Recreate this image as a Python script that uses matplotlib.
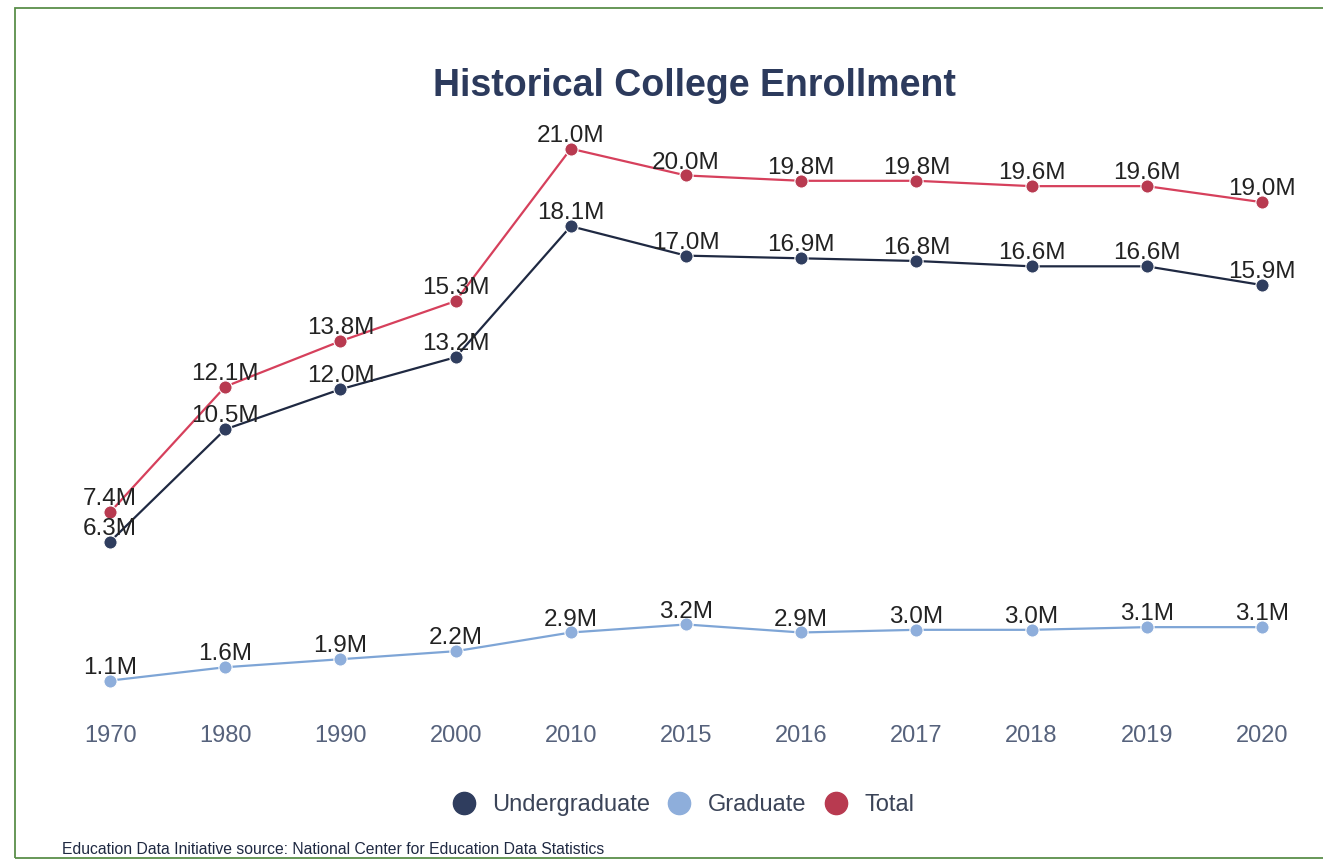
"""
Historical College Enrollment — 折れ線3本（学部・大学院・合計）の再現
出力: out.png
"""
import matplotlib
matplotlib.use("Agg")
import matplotlib.pyplot as plt  # noqa: E402
from matplotlib.lines import Line2D  # noqa: E402
from matplotlib.patches import Rectangle  # noqa: E402

plt.rcParams["font.family"] = ["Liberation Sans", "DejaVu Sans"]

# --- データ（百万人） ---
YEARS = ["1970", "1980", "1990", "2000", "2010", "2015", "2016", "2017", "2018", "2019", "2020"]
UNDERGRAD = [6.3, 10.5, 12.0, 13.2, 18.1, 17.0, 16.9, 16.8, 16.6, 16.6, 15.9]
GRADUATE = [1.1, 1.6, 1.9, 2.2, 2.9, 3.2, 2.9, 3.0, 3.0, 3.1, 3.1]
TOTAL = [7.4, 12.1, 13.8, 15.3, 21.0, 20.0, 19.8, 19.8, 19.6, 19.6, 19.0]

SERIES = [
    ("Undergraduate", UNDERGRAD, "#1f2942", "#2f3d5e"),
    ("Graduate", GRADUATE, "#7ea5d6", "#8eaedb"),
    ("Total", TOTAL, "#d6405c", "#b83a50"),
]

W, H = 1323, 866
fig = plt.figure(figsize=(W / 100, H / 100), dpi=100)

# 外枠（緑の細線）
fig.patches.append(Rectangle((15 / W, 8 / H), 1.2, 850 / H, transform=fig.transFigure,
                             fill=False, edgecolor="#5a8f4a", lw=1.3))

ax = fig.add_axes([64 / W, (H - 710) / H, 1244 / W, (710 - 122) / H])
xs = list(range(len(YEARS)))

for name, vals, lc, mc in SERIES:
    ax.plot(xs, vals, color=lc, lw=1.6, zorder=2)
    ax.plot(xs, vals, ls="none", marker="o", ms=9.5, color=mc,
            markeredgecolor="white", markeredgewidth=0.8, zorder=3)
    for x, v in zip(xs, vals):
        ax.annotate(f"{v:.1f}M", xy=(x, v), xytext=(0, 5), textcoords="offset points",
                    ha="center", va="baseline", fontsize=17.5, color="#222222", zorder=4)

ax.set_xlim(-0.4, 10.4)
ax.set_ylim(0, 22)
ax.set_xticks(xs)
ax.set_xticklabels(YEARS, fontsize=17, color="#56627c")
ax.tick_params(axis="x", length=0, pad=11)
ax.set_yticks([])
for s in ax.spines.values():
    s.set_visible(False)

fig.text(694 / W, 1 - 86 / H, "Historical College Enrollment", ha="center", va="center",
         fontsize=27, fontweight="bold", color="#2c3a5c")

handles = [Line2D([], [], ls="none", marker="o", ms=16, color=mc) for _, _, _, mc in SERIES]
fig.legend(handles, [s[0] for s in SERIES], loc="center", bbox_to_anchor=(677 / W, 1 - 805 / H),
           ncol=3, frameon=False, fontsize=17, handletextpad=0.2, columnspacing=0.25,
           labelcolor="#3b4458")

fig.text(62 / W, 1 - 849 / H,
         "Education Data Initiative source: National Center for Education Data Statistics",
         ha="left", va="center", fontsize=11.3, color="#1f2942")

fig.savefig("out.png", dpi=100, facecolor="white")
